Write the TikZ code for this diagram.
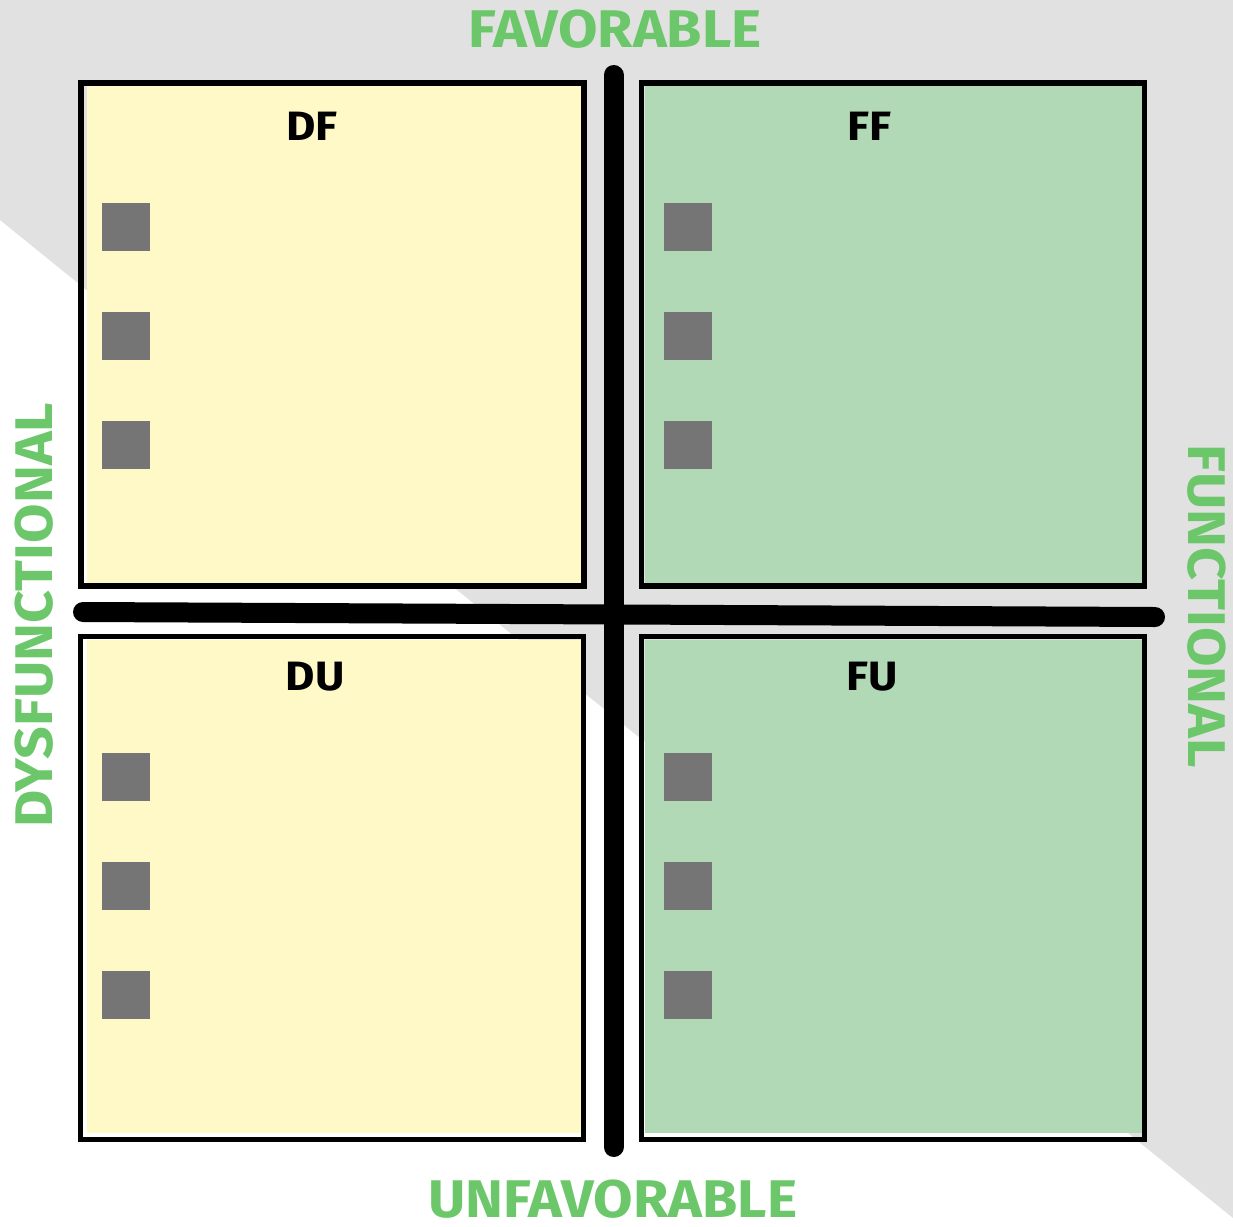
\documentclass[tikz,border=0pt]{standalone}
\usepackage{fontspec}
\setmainfont{Fira Sans}
\newfontfamily\axisfont[FakeStretch=1.08]{Fira Sans}
\newfontfamily\titlefont[FakeStretch=1.1]{Fira Sans}
\usetikzlibrary{calc}
\pgfdeclarelayer{backdrop}
\pgfdeclarelayer{paper}
\pgfsetlayers{backdrop,paper,main}
\definecolor{bggrey}{RGB}{225,225,225}
\definecolor{notey}{RGB}{255,249,200}
\definecolor{noteg}{RGB}{178,217,182}
\definecolor{axisg}{RGB}{108,199,106}
\definecolor{bullet}{RGB}{117,117,117}
\tikzset{
  quad/.style={draw=black, line width=5.5pt, minimum width=503pt, minimum height=503pt, inner sep=0pt},
  quadtitle/.style={font=\titlefont\fontsize{41}{41}\selectfont\bfseries, text=black, inner sep=0pt, anchor=base},
  bulletbox/.style={fill=bullet, minimum size=48pt, inner sep=0pt},
  axisline/.style={line width=20pt, line cap=round, draw=black},
  axislabel/.style={font=\axisfont\fontsize{53}{53}\selectfont\bfseries, text=axisg, inner sep=0pt, anchor=base}
}
\begin{document}
\begin{tikzpicture}[x=1pt,y=-1pt]
\useasboundingbox (0,0) rectangle (1233,1226);

% four quadrant frames
\node[quad] (df) at (332.5,334.5) {};
\node[quad] (ff) at (893,334.5) {};
\node[quad] (du) at (332,888) {};
\node[quad] (fu) at (893,888) {};

% note paper, set slightly off inside each frame
\begin{pgfonlayer}{paper}
  \fill[notey] ($(df.north west)+(9,6)$) rectangle ($(df.south east)+(-5,-6)$);
  \fill[noteg] ($(ff.north west)+(6,6)$) rectangle ($(ff.south east)+(-5,-6)$);
  \fill[notey] ($(du.north west)+(9,6)$) rectangle ($(du.south east)+(-5,-9)$);
  \fill[noteg] ($(fu.north west)+(6,6)$) rectangle ($(fu.south east)+(-5,-9)$);
\end{pgfonlayer}

% grey band behind the upper right half
\begin{pgfonlayer}{backdrop}
  \fill[bggrey] (0,0) -- (1233,0) -- (1233,1218) -- (0,220) -- cycle;
\end{pgfonlayer}

\node[quadtitle] (dft) at (312,140) {DF};
\node[quadtitle] (fft) at (869,140) {FF};
\node[quadtitle] (dut) at (315,690) {DU};
\node[quadtitle] (fut) at (872,690) {FU};

% bullet squares
\foreach \q/\x/\y in {df/126/227, ff/688/227, du/126/777, fu/688/777}{
  \node[bulletbox] (\q b1) at (\x,\y) {};
  \node[bulletbox] (\q b2) at (\x,\y+109) {};
  \node[bulletbox] (\q b3) at (\x,\y+218) {};
}

% axes
\coordinate (vtop) at (613.5,75);
\coordinate (vbot) at (613.5,1147);
\coordinate (hleft) at (83,612);
\coordinate (hright) at (1155,617);
\draw[axisline] (vtop) -- (vbot);
\draw[axisline] (hleft) -- (hright);

% axis labels
\node[axislabel] (fav) at (615,47) {FAVORABLE};
\node[axislabel] (unfav) at (613,1217) {UNFAVORABLE};
\node[axislabel, rotate=90] (dys) at (52,615) {DYSFUNCTIONAL};
\node[axislabel, rotate=-90] (fun) at (1188,606) {FUNCTIONAL};
\end{tikzpicture}
\end{document}
